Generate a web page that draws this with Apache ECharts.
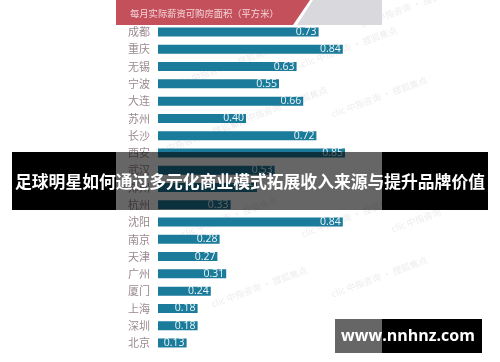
<!DOCTYPE html>
<html><head><meta charset="utf-8">
<script src="https://cdn.jsdelivr.net/npm/echarts@6/dist/echarts.min.js"></script>
<style>html,body{margin:0;padding:0;background:#fff}#c{width:500px;height:362px}</style>
</head><body><div id="c"></div>
<script>
const cities = ['成都','重庆','无锡','宁波','大连','苏州','长沙','西安','武汉','郑州','杭州','沈阳','南京','天津','广州','厦门','上海','深圳','北京'];
const values = [0.73,0.84,0.63,0.55,0.66,0.40,0.72,0.85,0.53,0.45,0.33,0.84,0.28,0.27,0.31,0.24,0.18,0.18,0.13];
const chartTitle = '每月实际薪资可购房面积（平方米）';
const bannerText = '足球明星如何通过多元化商业模式拓展收入来源与提升品牌价值';
const siteText = 'www.nnhnz.com';
const FONT = '"Noto Sans CJK SC", "Noto Sans", sans-serif';

const chart = echarts.init(document.getElementById('c'), null, {renderer:'canvas'});
const wm = [];
[[175,80],[300,60],[230,120],[330,110],[180,230],[300,230],[390,225],[210,300],[330,290],[150,150],[360,20]].forEach(p=>{
  wm.push({type:'text', x:p[0], y:p[1], rotation:0.35, z:1, silent:true,
    style:{text:'clic 中指咨询 · 搜狐焦点', fill:'rgba(200,200,205,0.35)', font:'9px '+FONT}});
});
chart.setOption({
  backgroundColor:'#ffffff',
  animation:false,
  grid:{left:158, width:220, top:23.4, bottom:10.4, containLabel:false},
  xAxis:{type:'value', min:0, max:1, show:false},
  yAxis:{type:'category', data:cities, inverse:true,
    axisLine:{show:false}, axisTick:{show:false}, splitLine:{show:false},
    axisLabel:{color:'#9a8a90', fontSize:11, margin:8, fontFamily:FONT}},
  series:[{type:'bar', data:values, barWidth:9, z:3,
    itemStyle:{color:'#1b7b9a'},
    label:{show:true, position:'insideRight', distance:2, color:'#eef6f9', fontSize:10.5,
      fontFamily:'"Open Sans", sans-serif', formatter:p=>p.value.toFixed(2)}}],
  graphic:[
    ...wm,
    {type:'polygon', z:5, shape:{points:[[116,0],[310,0],[293,25],[116,25]]}, style:{fill:'#c4505c'}},
    {type:'polygon', z:5, shape:{points:[[313,0],[382,0],[382,25],[297,25]]}, style:{fill:'#d9d9dd'}},
    {type:'text', z:6, x:130, y:13, style:{text:chartTitle, fill:'#f3d6da', font:'9.3px '+FONT, textVerticalAlign:'middle'}},
    {type:'rect', z:20, shape:{x:12,y:152,width:104,height:58}, style:{fill:'#000'}},
    {type:'rect', z:20, shape:{x:382,y:152,width:106,height:58}, style:{fill:'#000'}},
    {type:'rect', z:20, shape:{x:116,y:152,width:266,height:58}, style:{fill:'rgba(0,0,0,0.6)'}},
    {type:'text', z:21, x:250, y:182, style:{text:bannerText, fill:'#fff', font:'bold 16.8px '+FONT, textAlign:'center', textVerticalAlign:'middle'}},
    {type:'rect', z:20, shape:{x:335,y:319,width:47,height:34}, style:{fill:'rgba(0,0,0,0.6)'}},
    {type:'rect', z:20, shape:{x:382,y:319,width:100,height:34}, style:{fill:'#000'}},
    {type:'text', z:21, x:408, y:336, style:{text:siteText, fill:'#fff', font:'bold 16px "Open Sans", "DejaVu Sans", sans-serif', textAlign:'center', textVerticalAlign:'middle'}}
  ]
});
</script></body></html>
